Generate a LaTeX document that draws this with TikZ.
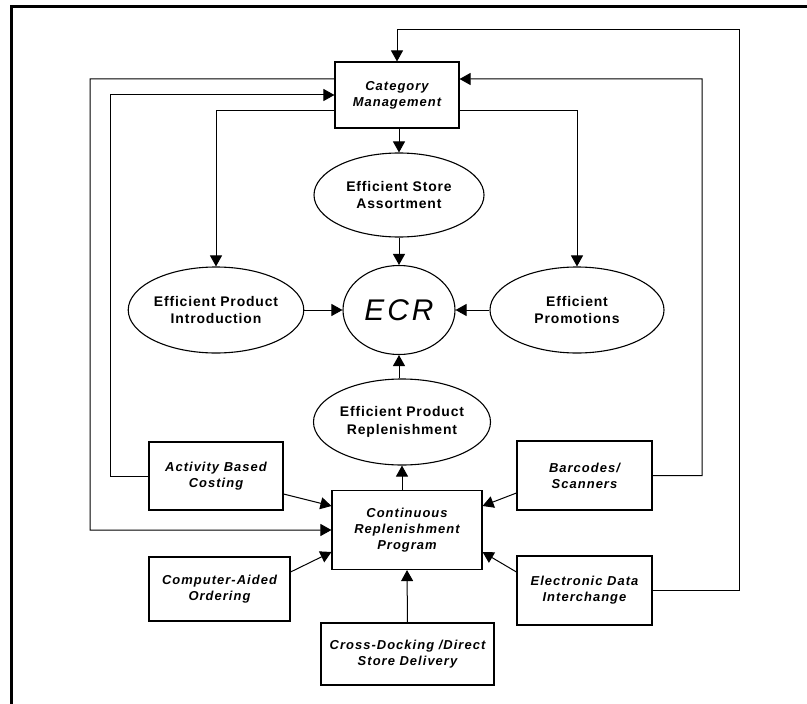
\documentclass[tikz,border=0pt]{standalone}
\usepackage{fontspec}
\setmainfont{Liberation Sans}
\newfontfamily\boxfont[LetterSpace=8]{Liberation Sans}
\newfontfamily\elfont[LetterSpace=6]{Liberation Sans}
\newfontfamily\ecrfont[LetterSpace=10]{Liberation Sans}
\usetikzlibrary{arrows.meta,shapes.geometric}
\begin{document}
\begin{tikzpicture}[x=1bp,y=-1bp,
  rbox/.style={draw,line width=1.1bp,rectangle,inner sep=0pt,align=center,
    font=\boxfont\bfseries\itshape\fontsize{13}{16}\selectfont},
  ell/.style={draw,line width=1.1bp,ellipse,inner sep=0pt,align=center,
    font=\elfont\bfseries\fontsize{14}{18}\selectfont},
  conn/.style={line width=1bp,-{Triangle[length=11bp,width=12bp]}}]
\useasboundingbox (0,0) rectangle (807,704);
% frame
\draw[line width=3bp] (11,704) -- (11,7) -- (807,7);
% nodes
\node[rbox,minimum width=124bp,minimum height=66bp] (CM) at (397,95) {Category\\Management};
\node[ell,minimum width=170bp,minimum height=84bp] (ESA) at (399,195) {Efficient Store\\Assortment};
\node[ell,minimum width=112bp,minimum height=89bp,font=\ecrfont\itshape\fontsize{30}{30}\selectfont] (ECR) at (399,310) {ECR};
\node[ell,minimum width=174bp,minimum height=86bp] (EPI) at (216,310) {Efficient Product\\Introduction};
\node[ell,minimum width=174bp,minimum height=86bp] (EP) at (577,310) {Efficient\\Promotions};
\node[ell,minimum width=177bp,minimum height=86bp] (EPR) at (402,422) {Efficient Product\\Replenishment};
\node[rbox,minimum width=150bp,minimum height=79bp] (CRP) at (407,530) {Continuous\\Replenishment\\Program};
\node[rbox,minimum width=173bp,minimum height=62bp] (CD) at (407.5,654) {Cross-Docking /Direct\\Store Delivery};
\node[rbox,minimum width=134bp,minimum height=68bp] (ABC) at (216,476) {Activity Based\\Costing};
\node[rbox,minimum width=141bp,minimum height=64bp] (CAO) at (219.5,589) {Computer-Aided\\Ordering};
\node[rbox,minimum width=135bp,minimum height=69bp] (BS) at (584.5,475.5) {Barcodes/\\Scanners};
\node[rbox,minimum width=135bp,minimum height=69bp] (EDI) at (584.5,590.5) {Electronic Data\\Interchange};
% bend points
\coordinate (R1) at (739,30);
\coordinate (R2) at (702,79);
\coordinate (L1) at (90,79);
\coordinate (L2) at (110,95);
% loops to/from Category Management
\draw[conn] (EDI.east) -| (R1) -| (CM.north);
\draw[conn] (BS.east) -| (R2) -- ([yshift=16bp]CM.east);
\draw[conn] ([yshift=16bp]CM.west) -- (L1) |- (CRP.west);
\draw[conn] (ABC.west) -| (L2) -- (CM.west);
\draw[conn] ([yshift=-16bp]CM.west) -| (EPI.north);
\draw[conn] ([yshift=-16bp]CM.east) -| (EP.north);
\draw[conn] (CM.south -| ESA.north) -- (ESA.north);
% into ECR
\draw[conn] (ESA.south) -- (ECR.north);
\draw[conn] (EPI.east) -- (ECR.west);
\draw[conn] (EP.west) -- (ECR.east);
\draw[conn] (EPR.north -| ECR.south) -- (ECR.south);
\draw[conn] (CRP.north -| EPR.south) -- (EPR.south);
% into CRP
\draw[conn] ([yshift=-18bp]ABC.east) -- ([yshift=24bp]CRP.west);
\draw[conn] ([yshift=17bp]CAO.east) -- ([yshift=-22bp]CRP.west);
\draw[conn] ([yshift=-17.5bp]BS.west) -- ([yshift=24bp]CRP.east);
\draw[conn] ([yshift=18.5bp]EDI.west) -- ([yshift=-22bp]CRP.east);
\draw[conn] (CD.north) -- (CRP.south);
\end{tikzpicture}
\end{document}
